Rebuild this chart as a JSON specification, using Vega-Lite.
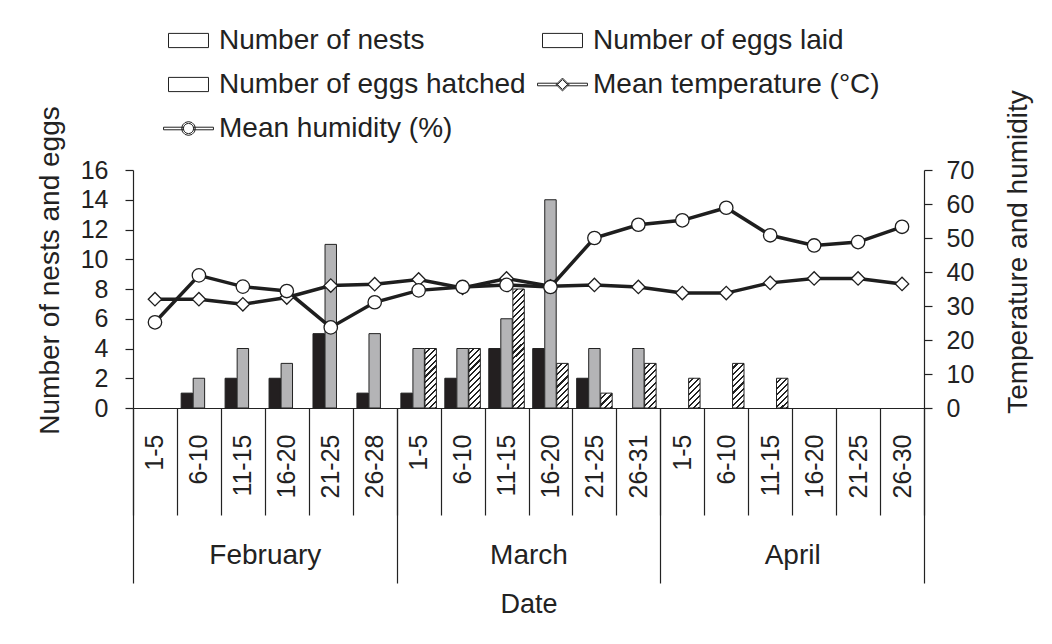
{
  "$schema": "https://vega.github.io/schema/vega-lite/v6.json",
  "width": 791,
  "height": 238,
  "autosize": {"type": "none"},
  "padding": {"left": 133, "top": 170, "right": 128, "bottom": 236},
  "background": "white",
  "config": {
    "view": {"stroke": null},
    "font": "Liberation Sans",
    "axis": {"labelFont": "Liberation Sans", "titleFont": "Liberation Sans", "titleFontWeight": "normal", "labelColor": "#222", "titleColor": "#222", "domainColor": "#222", "tickColor": "#222", "grid": false, "domainWidth": 1.2, "tickWidth": 1.2},
    "legend": {"orient": "none", "legendX": 33.5, "legendY": -151.5, "direction": "horizontal", "columns": 2, "symbolSize": 1849, "labelFont": "Liberation Sans", "labelFontSize": 28, "labelColor": "#222", "labelLimit": 600, "labelOffset": 8.5, "rowPadding": 8, "columnPadding": 9, "padding": 0, "symbolOpacity": 1, "symbolStrokeColor": "#222", "symbolStrokeWidth": 1, "symbolFillColor": "#ffffff"}
  },
  "data": {"values": [
    {"date": "Feb 1-5", "month": "February", "Number of nests": 0, "Number of eggs laid": 0, "Number of eggs hatched": 0, "temp": 32.0, "humidity": 25.2},
    {"date": "Feb 6-10", "month": "February", "Number of nests": 1, "Number of eggs laid": 2, "Number of eggs hatched": 0, "temp": 32.0, "humidity": 39.0},
    {"date": "Feb 11-15", "month": "February", "Number of nests": 2, "Number of eggs laid": 4, "Number of eggs hatched": 0, "temp": 30.5, "humidity": 35.7},
    {"date": "Feb 16-20", "month": "February", "Number of nests": 2, "Number of eggs laid": 3, "Number of eggs hatched": 0, "temp": 32.5, "humidity": 34.4},
    {"date": "Feb 21-25", "month": "February", "Number of nests": 5, "Number of eggs laid": 11, "Number of eggs hatched": 0, "temp": 36.0, "humidity": 23.7},
    {"date": "Feb 26-28", "month": "February", "Number of nests": 1, "Number of eggs laid": 5, "Number of eggs hatched": 0, "temp": 36.4, "humidity": 31.1},
    {"date": "Mar 1-5", "month": "March", "Number of nests": 1, "Number of eggs laid": 4, "Number of eggs hatched": 4, "temp": 37.8, "humidity": 34.6},
    {"date": "Mar 6-10", "month": "March", "Number of nests": 2, "Number of eggs laid": 4, "Number of eggs hatched": 4, "temp": 35.3, "humidity": 35.6},
    {"date": "Mar 11-15", "month": "March", "Number of nests": 4, "Number of eggs laid": 6, "Number of eggs hatched": 8, "temp": 38.1, "humidity": 36.2},
    {"date": "Mar 16-20", "month": "March", "Number of nests": 4, "Number of eggs laid": 14, "Number of eggs hatched": 3, "temp": 35.8, "humidity": 35.6},
    {"date": "Mar 21-25", "month": "March", "Number of nests": 2, "Number of eggs laid": 4, "Number of eggs hatched": 1, "temp": 36.2, "humidity": 50.0},
    {"date": "Mar 26-31", "month": "March", "Number of nests": 0, "Number of eggs laid": 4, "Number of eggs hatched": 3, "temp": 35.6, "humidity": 53.9},
    {"date": "Apr 1-5", "month": "April", "Number of nests": 0, "Number of eggs laid": 0, "Number of eggs hatched": 2, "temp": 33.8, "humidity": 55.2},
    {"date": "Apr 6-10", "month": "April", "Number of nests": 0, "Number of eggs laid": 0, "Number of eggs hatched": 3, "temp": 33.8, "humidity": 58.9},
    {"date": "Apr 11-15", "month": "April", "Number of nests": 0, "Number of eggs laid": 0, "Number of eggs hatched": 2, "temp": 36.8, "humidity": 50.8},
    {"date": "Apr 16-20", "month": "April", "Number of nests": 0, "Number of eggs laid": 0, "Number of eggs hatched": 0, "temp": 38.1, "humidity": 47.8},
    {"date": "Apr 21-25", "month": "April", "Number of nests": 0, "Number of eggs laid": 0, "Number of eggs hatched": 0, "temp": 38.1, "humidity": 48.8},
    {"date": "Apr 26-30", "month": "April", "Number of nests": 0, "Number of eggs laid": 0, "Number of eggs hatched": 0, "temp": 36.5, "humidity": 53.3}
  ]},
  "layer": [
    {
      "encoding": {
        "x": {
          "field": "date", "type": "ordinal",
          "scale": {"domain": ["Feb 1-5","Feb 6-10","Feb 11-15","Feb 16-20","Feb 21-25","Feb 26-28","Mar 1-5","Mar 6-10","Mar 11-15","Mar 16-20","Mar 21-25","Mar 26-31","Apr 1-5","Apr 6-10","Apr 11-15","Apr 16-20","Apr 21-25","Apr 26-30"], "paddingInner": 0, "paddingOuter": 0},
          "axis": {"title": null, "labelExpr": "split(datum.label, ' ')[1]", "labelAngle": -90, "tickBand": "extent", "tickSize": 107, "labelPadding": -81, "labelFontSize": 25}
        }
      },
      "layer": [
        {
          "transform": [{"fold": ["Number of nests", "Number of eggs laid", "Number of eggs hatched"], "as": ["series", "count"]}],
          "encoding": {
            "xOffset": {"field": "series", "type": "nominal", "scale": {"domain": ["Number of nests", "Number of eggs laid", "Number of eggs hatched"], "paddingInner": 0.05, "paddingOuter": 0.35}},
            "y": {"field": "count", "type": "quantitative", "scale": {"domain": [0, 16], "nice": false},
              "axis": {"orient": "left", "values": [0,2,4,6,8,10,12,14,16], "title": "Number of nests and eggs", "titleFontSize": 28, "titleY": 100, "titlePadding": 16, "labelFontSize": 25, "labelPadding": 17, "tickSize": 8}}
          },
          "layer": [
            {
              "transform": [{"filter": "datum.series !== 'Number of eggs hatched' && datum.count > 0"}],
              "mark": {"type": "bar", "stroke": "#222", "strokeWidth": 1},
              "encoding": {
                "color": {"field": "series", "type": "nominal", "legend": null}
              }
            },
            {
              "transform": [{"filter": "datum.series === 'Number of eggs hatched' && datum.count === 1"}],
              "mark": {"type": "bar", "stroke": "#222", "strokeWidth": 1, "fill": {"gradient": "linear", "x1": 0, "y1": 0, "x2": 0.854, "y2": 1.112, "stops": [
                {"offset": 0, "color": "#fff"}, {"offset": 0.1625, "color": "#fff"}, {"offset": 0.1625, "color": "#222"}, {"offset": 0.25, "color": "#222"},
                {"offset": 0.25, "color": "#fff"}, {"offset": 0.4125, "color": "#fff"}, {"offset": 0.4125, "color": "#222"}, {"offset": 0.5, "color": "#222"},
                {"offset": 0.5, "color": "#fff"}, {"offset": 0.6625, "color": "#fff"}, {"offset": 0.6625, "color": "#222"}, {"offset": 0.75, "color": "#222"},
                {"offset": 0.75, "color": "#fff"}, {"offset": 0.9125, "color": "#fff"}, {"offset": 0.9125, "color": "#222"}, {"offset": 1, "color": "#222"}]}}
            },
            {
              "transform": [{"filter": "datum.series === 'Number of eggs hatched' && datum.count === 2"}],
              "mark": {"type": "bar", "stroke": "#222", "strokeWidth": 1, "fill": {"gradient": "linear", "x1": 0, "y1": 0, "x2": 0.463, "y2": 1.206, "stops": [
                {"offset": 0, "color": "#fff"}, {"offset": 0.0929, "color": "#fff"}, {"offset": 0.0929, "color": "#222"}, {"offset": 0.1429, "color": "#222"},
                {"offset": 0.1429, "color": "#fff"}, {"offset": 0.2357, "color": "#fff"}, {"offset": 0.2357, "color": "#222"}, {"offset": 0.2857, "color": "#222"},
                {"offset": 0.2857, "color": "#fff"}, {"offset": 0.3786, "color": "#fff"}, {"offset": 0.3786, "color": "#222"}, {"offset": 0.4286, "color": "#222"},
                {"offset": 0.4286, "color": "#fff"}, {"offset": 0.5214, "color": "#fff"}, {"offset": 0.5214, "color": "#222"}, {"offset": 0.5714, "color": "#222"},
                {"offset": 0.5714, "color": "#fff"}, {"offset": 0.6643, "color": "#fff"}, {"offset": 0.6643, "color": "#222"}, {"offset": 0.7143, "color": "#222"},
                {"offset": 0.7143, "color": "#fff"}, {"offset": 0.8071, "color": "#fff"}, {"offset": 0.8071, "color": "#222"}, {"offset": 0.8571, "color": "#222"},
                {"offset": 0.8571, "color": "#fff"}, {"offset": 0.95, "color": "#fff"}, {"offset": 0.95, "color": "#222"}, {"offset": 1, "color": "#222"}]}}
            },
            {
              "transform": [{"filter": "datum.series === 'Number of eggs hatched' && datum.count === 3"}],
              "mark": {"type": "bar", "stroke": "#222", "strokeWidth": 1, "fill": {"gradient": "linear", "x1": 0, "y1": 0, "x2": 0.3017, "y2": 1.1787, "stops": [
                {"offset": 0, "color": "#fff"}, {"offset": 0.0722, "color": "#fff"}, {"offset": 0.0722, "color": "#222"}, {"offset": 0.1111, "color": "#222"},
                {"offset": 0.1111, "color": "#fff"}, {"offset": 0.1833, "color": "#fff"}, {"offset": 0.1833, "color": "#222"}, {"offset": 0.2222, "color": "#222"},
                {"offset": 0.2222, "color": "#fff"}, {"offset": 0.2944, "color": "#fff"}, {"offset": 0.2944, "color": "#222"}, {"offset": 0.3333, "color": "#222"},
                {"offset": 0.3333, "color": "#fff"}, {"offset": 0.4056, "color": "#fff"}, {"offset": 0.4056, "color": "#222"}, {"offset": 0.4444, "color": "#222"},
                {"offset": 0.4444, "color": "#fff"}, {"offset": 0.5167, "color": "#fff"}, {"offset": 0.5167, "color": "#222"}, {"offset": 0.5556, "color": "#222"},
                {"offset": 0.5556, "color": "#fff"}, {"offset": 0.6278, "color": "#fff"}, {"offset": 0.6278, "color": "#222"}, {"offset": 0.6667, "color": "#222"},
                {"offset": 0.6667, "color": "#fff"}, {"offset": 0.7389, "color": "#fff"}, {"offset": 0.7389, "color": "#222"}, {"offset": 0.7778, "color": "#222"},
                {"offset": 0.7778, "color": "#fff"}, {"offset": 0.85, "color": "#fff"}, {"offset": 0.85, "color": "#222"}, {"offset": 0.8889, "color": "#222"},
                {"offset": 0.8889, "color": "#fff"}, {"offset": 0.9611, "color": "#fff"}, {"offset": 0.9611, "color": "#222"}, {"offset": 1, "color": "#222"}]}}
            },
            {
              "transform": [{"filter": "datum.series === 'Number of eggs hatched' && datum.count === 4"}],
              "mark": {"type": "bar", "stroke": "#222", "strokeWidth": 1, "fill": {"gradient": "linear", "x1": 0, "y1": 0, "x2": 0.2207, "y2": 1.1496, "stops": [
                {"offset": 0, "color": "#fff"}, {"offset": 0.0542, "color": "#fff"}, {"offset": 0.0542, "color": "#222"}, {"offset": 0.0833, "color": "#222"},
                {"offset": 0.0833, "color": "#fff"}, {"offset": 0.1375, "color": "#fff"}, {"offset": 0.1375, "color": "#222"}, {"offset": 0.1667, "color": "#222"},
                {"offset": 0.1667, "color": "#fff"}, {"offset": 0.2208, "color": "#fff"}, {"offset": 0.2208, "color": "#222"}, {"offset": 0.25, "color": "#222"},
                {"offset": 0.25, "color": "#fff"}, {"offset": 0.3042, "color": "#fff"}, {"offset": 0.3042, "color": "#222"}, {"offset": 0.3333, "color": "#222"},
                {"offset": 0.3333, "color": "#fff"}, {"offset": 0.3875, "color": "#fff"}, {"offset": 0.3875, "color": "#222"}, {"offset": 0.4167, "color": "#222"},
                {"offset": 0.4167, "color": "#fff"}, {"offset": 0.4708, "color": "#fff"}, {"offset": 0.4708, "color": "#222"}, {"offset": 0.5, "color": "#222"},
                {"offset": 0.5, "color": "#fff"}, {"offset": 0.5542, "color": "#fff"}, {"offset": 0.5542, "color": "#222"}, {"offset": 0.5833, "color": "#222"},
                {"offset": 0.5833, "color": "#fff"}, {"offset": 0.6375, "color": "#fff"}, {"offset": 0.6375, "color": "#222"}, {"offset": 0.6667, "color": "#222"},
                {"offset": 0.6667, "color": "#fff"}, {"offset": 0.7208, "color": "#fff"}, {"offset": 0.7208, "color": "#222"}, {"offset": 0.75, "color": "#222"},
                {"offset": 0.75, "color": "#fff"}, {"offset": 0.8042, "color": "#fff"}, {"offset": 0.8042, "color": "#222"}, {"offset": 0.8333, "color": "#222"},
                {"offset": 0.8333, "color": "#fff"}, {"offset": 0.8875, "color": "#fff"}, {"offset": 0.8875, "color": "#222"}, {"offset": 0.9167, "color": "#222"},
                {"offset": 0.9167, "color": "#fff"}, {"offset": 0.9708, "color": "#fff"}, {"offset": 0.9708, "color": "#222"}, {"offset": 1, "color": "#222"}]}}
            },
            {
              "transform": [{"filter": "datum.series === 'Number of eggs hatched' && datum.count === 8"}],
              "mark": {"type": "bar", "stroke": "#222", "strokeWidth": 1, "fill": {"gradient": "linear", "x1": 0, "y1": 0, "x2": 0.1042, "y2": 1.086, "stops": [
                {"offset": 0, "color": "#fff"}, {"offset": 0.0295, "color": "#fff"}, {"offset": 0.0295, "color": "#222"}, {"offset": 0.0455, "color": "#222"},
                {"offset": 0.0455, "color": "#fff"}, {"offset": 0.075, "color": "#fff"}, {"offset": 0.075, "color": "#222"}, {"offset": 0.0909, "color": "#222"},
                {"offset": 0.0909, "color": "#fff"}, {"offset": 0.1205, "color": "#fff"}, {"offset": 0.1205, "color": "#222"}, {"offset": 0.1364, "color": "#222"},
                {"offset": 0.1364, "color": "#fff"}, {"offset": 0.1659, "color": "#fff"}, {"offset": 0.1659, "color": "#222"}, {"offset": 0.1818, "color": "#222"},
                {"offset": 0.1818, "color": "#fff"}, {"offset": 0.2114, "color": "#fff"}, {"offset": 0.2114, "color": "#222"}, {"offset": 0.2273, "color": "#222"},
                {"offset": 0.2273, "color": "#fff"}, {"offset": 0.2568, "color": "#fff"}, {"offset": 0.2568, "color": "#222"}, {"offset": 0.2727, "color": "#222"},
                {"offset": 0.2727, "color": "#fff"}, {"offset": 0.3023, "color": "#fff"}, {"offset": 0.3023, "color": "#222"}, {"offset": 0.3182, "color": "#222"},
                {"offset": 0.3182, "color": "#fff"}, {"offset": 0.3477, "color": "#fff"}, {"offset": 0.3477, "color": "#222"}, {"offset": 0.3636, "color": "#222"},
                {"offset": 0.3636, "color": "#fff"}, {"offset": 0.3932, "color": "#fff"}, {"offset": 0.3932, "color": "#222"}, {"offset": 0.4091, "color": "#222"},
                {"offset": 0.4091, "color": "#fff"}, {"offset": 0.4386, "color": "#fff"}, {"offset": 0.4386, "color": "#222"}, {"offset": 0.4545, "color": "#222"},
                {"offset": 0.4545, "color": "#fff"}, {"offset": 0.4841, "color": "#fff"}, {"offset": 0.4841, "color": "#222"}, {"offset": 0.5, "color": "#222"},
                {"offset": 0.5, "color": "#fff"}, {"offset": 0.5295, "color": "#fff"}, {"offset": 0.5295, "color": "#222"}, {"offset": 0.5455, "color": "#222"},
                {"offset": 0.5455, "color": "#fff"}, {"offset": 0.575, "color": "#fff"}, {"offset": 0.575, "color": "#222"}, {"offset": 0.5909, "color": "#222"},
                {"offset": 0.5909, "color": "#fff"}, {"offset": 0.6205, "color": "#fff"}, {"offset": 0.6205, "color": "#222"}, {"offset": 0.6364, "color": "#222"},
                {"offset": 0.6364, "color": "#fff"}, {"offset": 0.6659, "color": "#fff"}, {"offset": 0.6659, "color": "#222"}, {"offset": 0.6818, "color": "#222"},
                {"offset": 0.6818, "color": "#fff"}, {"offset": 0.7114, "color": "#fff"}, {"offset": 0.7114, "color": "#222"}, {"offset": 0.7273, "color": "#222"},
                {"offset": 0.7273, "color": "#fff"}, {"offset": 0.7568, "color": "#fff"}, {"offset": 0.7568, "color": "#222"}, {"offset": 0.7727, "color": "#222"},
                {"offset": 0.7727, "color": "#fff"}, {"offset": 0.8023, "color": "#fff"}, {"offset": 0.8023, "color": "#222"}, {"offset": 0.8182, "color": "#222"},
                {"offset": 0.8182, "color": "#fff"}, {"offset": 0.8477, "color": "#fff"}, {"offset": 0.8477, "color": "#222"}, {"offset": 0.8636, "color": "#222"},
                {"offset": 0.8636, "color": "#fff"}, {"offset": 0.8932, "color": "#fff"}, {"offset": 0.8932, "color": "#222"}, {"offset": 0.9091, "color": "#222"},
                {"offset": 0.9091, "color": "#fff"}, {"offset": 0.9386, "color": "#fff"}, {"offset": 0.9386, "color": "#222"}, {"offset": 0.9545, "color": "#222"},
                {"offset": 0.9545, "color": "#fff"}, {"offset": 0.9841, "color": "#fff"}, {"offset": 0.9841, "color": "#222"}, {"offset": 1, "color": "#222"}]}}
            },
            {
              "mark": {"type": "point", "filled": true, "opacity": 0, "stroke": "#222", "strokeWidth": 1},
              "encoding": {
                "color": {
                  "field": "series", "type": "nominal",
                  "scale": {"domain": ["Number of nests", "Number of eggs laid", "Number of eggs hatched", "Mean temperature (°C)", "Mean humidity (%)"],
                    "range": ["#231f20", "#b4b4b6", "#ffffff", "#1e1e1e", "#1e1e1e"]},
                  "legend": {"title": null, "orient": "none", "legendX": 33.5, "legendY": -151.5, "direction": "horizontal", "columns": 2, "symbolSize": 1849, "labelFontSize": 28, "labelLimit": 600, "labelOffset": 8.5, "rowPadding": 8, "columnPadding": 9, "padding": 0, "symbolOpacity": 1}
                },
                "shape": {
                  "field": "series", "type": "nominal",
                  "scale": {"domain": ["Number of nests", "Number of eggs laid", "Number of eggs hatched", "Mean temperature (°C)", "Mean humidity (%)"],
                    "range": ["M-0.93,-0.33H0.93V0.33H-0.93Z", "M-0.93,-0.33H0.93V0.33H-0.93Z", "M-0.93,-0.33H0.93V0.33H-0.93Z",
                      "M-1.16,-0.06H-0.25V0.06H-1.16Z M0.25,-0.06H1.16V0.06H0.25Z M0,-0.3L0.3,0L0,0.3L-0.3,0Z M0,-0.23L-0.23,0L0,0.23L0.23,0Z",
                      "M-1.16,-0.06H-0.25V0.06H-1.16Z M0.25,-0.06H1.16V0.06H0.25Z M0.32,0L0.277,0.16L0.16,0.277L0,0.32L-0.16,0.277L-0.277,0.16L-0.32,0L-0.277,-0.16L-0.16,-0.277L0,-0.32L0.16,-0.277L0.277,-0.16Z M0.24,0L0.208,-0.12L0.12,-0.208L0,-0.24L-0.12,-0.208L-0.208,-0.12L-0.24,0L-0.208,0.12L-0.12,0.208L0,0.24L0.12,0.208L0.208,0.12Z"]},
                  "legend": {"title": null, "orient": "none", "legendX": 33.5, "legendY": -151.5, "direction": "horizontal", "columns": 2, "symbolSize": 1849, "labelFontSize": 28, "labelLimit": 600, "labelOffset": 8.5, "rowPadding": 8, "columnPadding": 9, "padding": 0, "symbolOpacity": 1}
                }
              }
            }
          ]
        },
        {
          "transform": [{"fold": ["temp", "humidity"], "as": ["var", "val"]}],
          "encoding": {
            "y": {"field": "val", "type": "quantitative", "scale": {"domain": [0, 70], "nice": false},
              "axis": {"orient": "right", "values": [0,10,20,30,40,50,60,70], "title": "Temperature and humidity", "titleFontSize": 28, "titleAngle": 270, "titleBaseline": "top", "titleY": 81.5, "titlePadding": 31, "labelFontSize": 25, "labelPadding": 14, "tickSize": 8}}
          },
          "layer": [
            {"mark": {"type": "line", "color": "#1e1e1e", "strokeWidth": 3.5}, "encoding": {"detail": {"field": "var"}, "order": {"value": null}}},
            {"mark": {"type": "point", "filled": true, "fill": "#ffffff", "stroke": "#1e1e1e", "strokeWidth": 1.3, "size": 180, "opacity": 1},
             "encoding": {"shape": {"field": "var", "type": "nominal", "scale": {"domain": ["temp", "humidity"], "range": ["diamond", "circle"]}, "legend": null}}}
          ]
        }
      ],
      "resolve": {"scale": {"y": "independent", "shape": "independent"}}
    },
    {
      "mark": {"type": "point", "opacity": 0},
      "encoding": {
        "x": {"field": "month", "type": "ordinal", "scale": {"domain": ["February", "March", "April"], "paddingInner": 0, "paddingOuter": 0},
          "axis": {"orient": "bottom", "title": "Date", "titleFontSize": 27, "titlePadding": 8, "labelAngle": 0, "labelFontSize": 28, "labelPadding": -42, "tickBand": "extent", "tickSize": 175, "domain": false}}
      }
    }
  ],
  "resolve": {"scale": {"x": "independent"}}
}
